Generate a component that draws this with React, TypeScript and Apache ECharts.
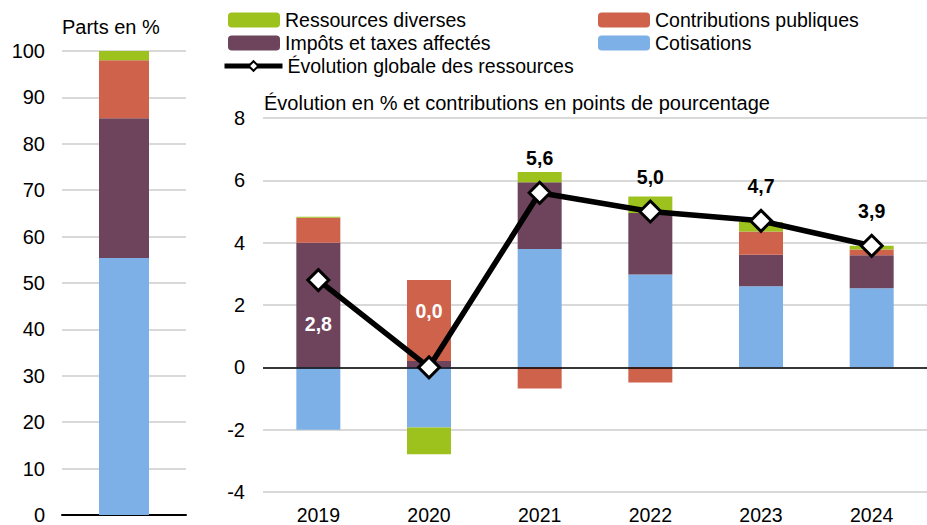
import React, { useEffect, useRef } from "react";
import * as echarts from "echarts";

const years = ["2019", "2020", "2021", "2022", "2023", "2024"];
const cotisations = [-2.0, -1.93, 3.8, 2.98, 2.6, 2.54];
const impots = [4.0, 0.2, 2.14, 1.97, 1.01, 1.06];
const contributions = [0.8, 2.6, -0.68, -0.49, 0.75, 0.18];
const ressources = [0.03, -0.86, 0.33, 0.53, 0.3, 0.12];
const evolution = [2.8, 0.0, 5.6, 5.0, 4.7, 3.9];

const shareCategory = ["Parts"];
const shareCotisations = [55.4];
const shareImpots = [30.1];
const shareContributions = [12.5];
const shareRessources = [2.0];

const NAMES = {
  res: "Ressources diverses",
  con: "Contributions publiques",
  imp: "Impôts et taxes affectés",
  cot: "Cotisations",
  evo: "Évolution globale des ressources",
};

const COLORS = {
  res: "#9DC21E",
  con: "#CF624B",
  imp: "#6D445B",
  cot: "#7CB0E7",
};

const FONT = "Liberation Sans, Arial, sans-serif";
const FS = 19.5;

export default function App() {
  const ref = useRef<HTMLDivElement>(null);

  useEffect(() => {
    if (!ref.current) return;
    const chart = echarts.init(ref.current, undefined, { renderer: "svg" });

    const labelCfg = [
      { position: "bottom", distance: 22, color: "#fff" },
      { position: "top", distance: 34, color: "#fff" },
      { position: "top", distance: 13, color: "#000" },
      { position: "top", distance: 13, color: "#000" },
      { position: "top", distance: 13, color: "#000" },
      { position: "top", distance: 13, color: "#000" },
    ];

    const barRight = (key: keyof typeof COLORS, name: string, data: number[], extra: any = {}) => ({
      type: "bar",
      name,
      stack: "right",
      xAxisIndex: 1,
      yAxisIndex: 1,
      barWidth: 44,
      data,
      itemStyle: { color: COLORS[key] },
      z: 2,
      ...extra,
    });
    const barLeft = (key: keyof typeof COLORS, name: string, data: number[]) => ({
      type: "bar",
      name,
      stack: "left",
      xAxisIndex: 0,
      yAxisIndex: 0,
      barWidth: 50,
      data,
      itemStyle: { color: COLORS[key] },
      z: 2,
    });

    const legendBase = {
      itemWidth: 52,
      itemHeight: 15,
      padding: 0,
      textStyle: { fontSize: FS, color: "#000", fontFamily: FONT },
      selectedMode: false,
      orient: "horizontal",
    };

    const titleStyle = { fontSize: 20, fontWeight: "normal", color: "#000", fontFamily: FONT };

    const option: any = {
      animation: false,
      backgroundColor: "#fff",
      textStyle: { fontFamily: FONT },
      title: [
        { text: "Parts en %", left: 62, top: 17, padding: 0, textStyle: titleStyle },
        {
          text: "Évolution en % et contributions en points de pourcentage",
          left: 264,
          top: 93,
          padding: 0,
          textStyle: titleStyle,
        },
      ],
      legend: [
        { ...legendBase, left: 228, top: 10, data: [NAMES.res] },
        { ...legendBase, left: 228, top: 33, data: [NAMES.imp] },
        { ...legendBase, left: 598, top: 10, data: [NAMES.con] },
        { ...legendBase, left: 598, top: 33, data: [NAMES.cot] },
        {
          ...legendBase,
          left: 222,
          top: 56,
          itemWidth: 58,
          itemHeight: 12,
          lineStyle: { width: 5, color: "#000" },
          itemStyle: { color: "#fff", borderColor: "#000", borderWidth: 2 },
          data: [NAMES.evo],
        },
      ],
      grid: [
        { left: 62, top: 51, width: 124, height: 466.5 },
        { left: 263, top: 118, width: 672, height: 374 },
      ],
      xAxis: [
        {
          type: "category",
          gridIndex: 0,
          data: shareCategory,
          axisLine: { show: true, lineStyle: { color: "#000", width: 2 } },
          axisTick: { show: false },
          axisLabel: { show: false },
        },
        {
          type: "category",
          gridIndex: 1,
          data: years,
          axisLine: { show: false, onZero: false },
          axisTick: { show: false },
          axisLabel: { fontSize: FS, color: "#000", margin: 13, fontFamily: FONT },
        },
      ],
      yAxis: [
        {
          type: "value",
          gridIndex: 0,
          min: 0,
          max: 100,
          interval: 10,
          axisLine: { show: false },
          axisTick: { show: false },
          axisLabel: { fontSize: 20, color: "#000", margin: 17, fontFamily: FONT },
          splitLine: { lineStyle: { color: "#d9d9d9", width: 2 } },
        },
        {
          type: "value",
          gridIndex: 1,
          min: -4,
          max: 8,
          interval: 2,
          axisLine: { show: false },
          axisTick: { show: false },
          axisLabel: { fontSize: 20, color: "#000", margin: 18, fontFamily: FONT },
          splitLine: { lineStyle: { color: "#d9d9d9", width: 2 } },
        },
      ],
      series: [
        barLeft("cot", NAMES.cot, shareCotisations),
        barLeft("imp", NAMES.imp, shareImpots),
        barLeft("con", NAMES.con, shareContributions),
        barLeft("res", NAMES.res, shareRessources),
        barRight("cot", NAMES.cot, cotisations, {
          markLine: {
            silent: true,
            symbol: ["none", "none"],
            label: { show: false },
            lineStyle: { color: "#000", width: 1.5, type: "solid" },
            data: [{ yAxis: 0 }],
          },
        }),
        barRight("imp", NAMES.imp, impots),
        barRight("con", NAMES.con, contributions),
        barRight("res", NAMES.res, ressources),
        {
          type: "line",
          name: NAMES.evo,
          xAxisIndex: 1,
          yAxisIndex: 1,
          z: 5,
          data: evolution.map((v, i) => ({
            value: v,
            label: labelCfg[i],
          })),
          lineStyle: { color: "#000", width: 5.5 },
          itemStyle: { color: "#fff", borderColor: "#000", borderWidth: 3 },
          symbol: "diamond",
          symbolSize: 21,
          label: {
            show: true,
            fontSize: FS,
            fontWeight: "bold",
            fontFamily: FONT,
            formatter: (p: any) => Number(p.value).toFixed(1).replace(".", ","),
          },
        },
      ],
    };

    chart.setOption(option);
    return () => chart.dispose();
  }, []);

  return (
    <div
      ref={ref}
      style={{ position: "fixed", left: 0, top: 0, width: 927, height: 525, background: "#fff" }}
    />
  );
}
